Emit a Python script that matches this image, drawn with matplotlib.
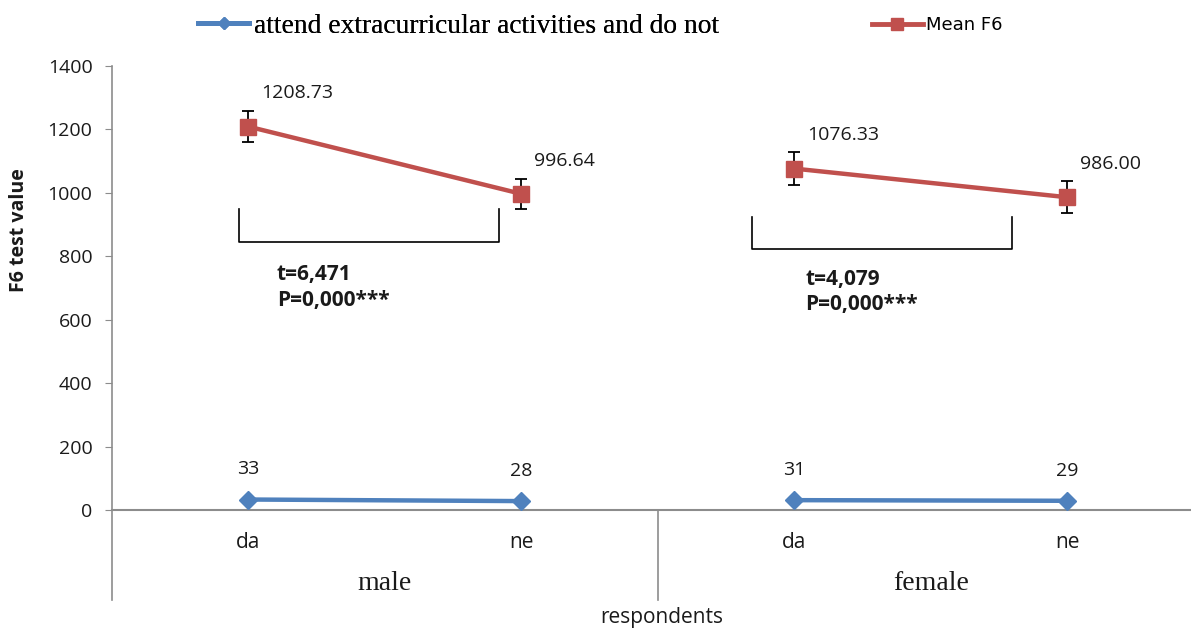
import numpy as np
import matplotlib
matplotlib.use("Agg")
import matplotlib.pyplot as plt
from matplotlib.lines import Line2D

#--------------------
# data

tick_labels = ["da", "ne", "da", "ne"]
groups = ["male", "female"]
mean_f6 = [1208.73, 996.64, 1076.33, 986.00]
mean_err = [48, 48, 52, 50]
mean_labels = ["1208.73", "996.64", "1076.33", "986.00"]
attend = [33, 28, 31, 29]
attend_labels = ["33", "28", "31", "29"]
stats = [("t=6,471", "P=0,000***"), ("t=4,079", "P=0,000***")]

RED = "#C0504D"
BLUE = "#4F81BD"
GREY = "#8C8C8C"
INK = "#1a1a1a"
SANS = ["Open Sans", "DejaVu Sans"]
SERIF = ["Liberation Serif", "DejaVu Serif"]

#--------------------
# figure

fig = plt.figure(figsize=(11.91, 6.30), dpi=100, facecolor="w")
ax = fig.add_axes([0.0940, 0.1905, 0.9169, 0.7048])
ax.set_xlim(-0.5, 3.5)
ax.set_ylim(0, 1400)

x = np.arange(len(tick_labels))

# two separate segments per series (male / female)
for g in range(2):
    sl = slice(2 * g, 2 * g + 2)
    ax.errorbar(x[sl], mean_f6[sl], yerr=mean_err[sl], color=RED, lw=3.2,
                marker="s", markersize=12, ecolor="black", elinewidth=1.3,
                capsize=4, capthick=1.3, zorder=3)
    ax.plot(x[sl], attend[sl], color=BLUE, lw=3.2, marker="D",
            markersize=9, zorder=3, clip_on=False)

# data labels
for i in range(4):
    ax.text(x[i] + 0.045, mean_f6[i] + 105, mean_labels[i], fontsize=14,
            family=SANS, color=INK, va="center", ha="left")
    ax.text(x[i] + 0.0, attend[i] + 95, attend_labels[i], fontsize=14,
            family=SANS, color=INK, va="center", ha="center")

# brackets and test stats
brackets = [(-0.035, 0.918, 949, 845), (1.843, 2.796, 924, 823)]
for (x0, x1, ytop, ybot), (tline, pline), tx, ty in zip(
        brackets, stats, [0.104, 2.04], [741, 728]):
    ax.plot([x0, x0, x1, x1], [ytop, ybot, ybot, ytop], color="black", lw=1.2)
    ax.text(tx, ty, tline, fontsize=15, fontweight="bold", family=SANS,
            color=INK, va="center", ha="left")
    ax.text(tx, ty - 80, pline, fontsize=15, fontweight="bold", family=SANS,
            color=INK, va="center", ha="left")

# axes styling
for s in ["top", "right", "left"]:
    ax.spines[s].set_visible(False)
ax.spines["bottom"].set_color(GREY)
ax.spines["bottom"].set_linewidth(1.5)
ax.set_yticks(np.arange(0, 1401, 200))
ax.tick_params(axis="y", length=5, color=GREY, labelsize=14, pad=9)
ax.set_xticks(x)
ax.set_xticklabels(tick_labels)
ax.tick_params(axis="x", length=0, labelsize=15, pad=16)
for lab in ax.get_xticklabels() + ax.get_yticklabels():
    lab.set_family(SANS)
    lab.set_color(INK)

# left axis line and group dividers going below the axis
trans = ax.get_xaxis_transform()
low = -0.203
ax.plot([-0.5, -0.5], [low, 1.0], color=GREY, lw=1.2, transform=trans, clip_on=False)
ax.plot([1.5, 1.5], [low, 0.0], color=GREY, lw=1.2, transform=trans, clip_on=False)
ax.plot([3.5, 3.5], [low, 0.0], color=GREY, lw=1.2, transform=trans, clip_on=False)

# group labels
for g, name in enumerate(groups):
    ax.text(2 * g + 0.5, -0.165, name, transform=trans, fontsize=20,
            family=SERIF, color=INK, ha="center", va="center")

ax.set_ylabel("F6 test value", fontsize=14, fontweight="bold", family=SANS,
              color=INK)
ax.yaxis.set_label_coords(-0.076, 0.63)
fig.text(0.556, 0.02, "respondents", fontsize=15, family=SANS, color=INK,
         ha="center", va="center")

# legend, two pieces placed separately
h1 = Line2D([], [], color=BLUE, lw=3.5, marker="D", markersize=6)
h2 = Line2D([], [], color=RED, lw=3.5, marker="s", markersize=8)
leg1 = fig.legend([h1], ["attend extracurricular activities and do not"],
                  loc="center left", bbox_to_anchor=(198 / 1191, 1 - 26 / 630),
                  frameon=False, borderpad=0, borderaxespad=0,
                  handlelength=1.87, handletextpad=0.15,
                  prop={"family": SERIF, "size": 19.8})
leg2 = fig.legend([h2], ["Mean F6"],
                  loc="center left", bbox_to_anchor=(872 / 1191, 1 - 25 / 630),
                  frameon=False, borderpad=0, borderaxespad=0,
                  handlelength=2.8, handletextpad=0.2,
                  prop={"family": ["Liberation Sans Narrow", "DejaVu Sans"], "size": 13})
fig.add_artist(leg1)

plt.savefig("out.png", dpi=100)
